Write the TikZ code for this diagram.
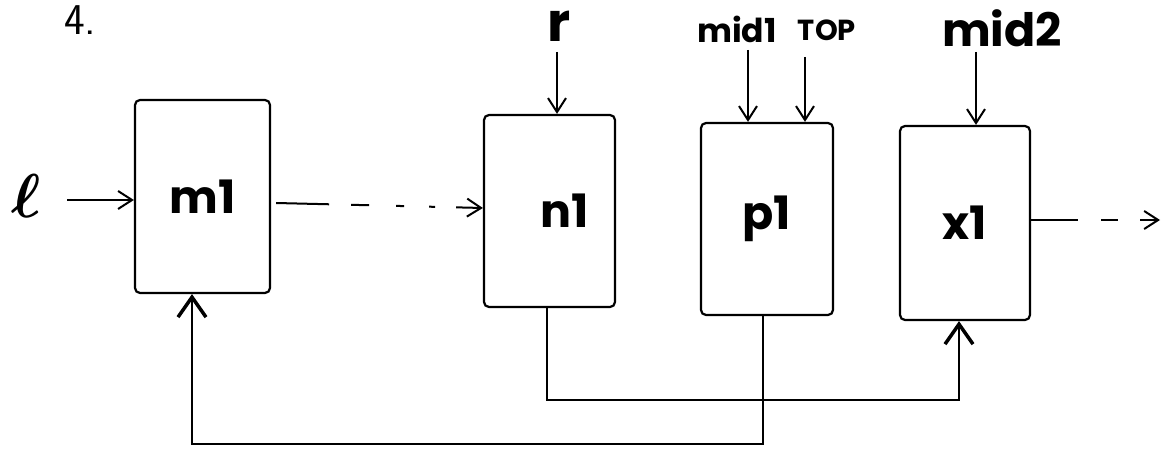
\documentclass[tikz,border=0pt]{standalone}
\usepackage{amsmath}
\usepackage{fontspec}
\setmainfont{Poppins}
\usetikzlibrary{arrows.meta}

\tikzset{
  x=1pt, y=-1pt,
  blk/.style={draw, line width=2.2pt, rounded corners=5pt, inner sep=0pt,
              font=\fontsize{46}{46}\selectfont\bfseries},
  tag/.style={inner sep=0pt, anchor=base, font=\fontsize{#1}{#1}\selectfont\bfseries},
  wire/.style={line width=2pt},
  inarrow/.style={wire, -{Straight Barb[length=14pt,width=18pt,line width=2pt]}},
  uparrow/.style={line width=2.2pt, -{Straight Barb[length=20pt,width=28pt,line width=3.5pt]}},
}

\begin{document}
\begin{tikzpicture}
\useasboundingbox (0,0) rectangle (1170,454);

% heading
\node[inner sep=0pt, anchor=base west, font=\sffamily\fontsize{44}{44}\selectfont] (num) at (64,35) {4.};

% blocks
\node[blk, minimum width=135pt, minimum height=193pt] (m1) at (202.5,196.5) {m1};
\node[blk, minimum width=131pt, minimum height=192pt] (n1) at (549.5,211) {\hspace*{30pt}n1};
\node[blk, minimum width=132pt, minimum height=192pt] (p1) at (767,219) {p1};
\node[blk, minimum width=130pt, minimum height=194pt] (x1) at (965,223) {x1};

% input labels
\node[inner sep=0pt] (lin) at (26,196) {\scalebox{6.2}{$\boldsymbol{\ell}$}};
\node[tag=54] (rlbl) at (559,42) {r};
\node[tag=33] (mid1) at (737,43) {mid1};
\node[tag=29] (top) at (827,41) {TOP};
\node[tag=46] (mid2) at (1002,47) {mid2};

% arrow ends
\coordinate (la) at (67,200);
\coordinate (ra) at (557,52);
\coordinate (ma) at (748,50);
\coordinate (ta) at (805,57);
\coordinate (na) at (976,52);
\coordinate (xout) at (1160,220);
\coordinate (fa) at (763,444);
\coordinate (fb) at (192,444);
\coordinate (ga) at (547,400);
\coordinate (gb) at (959,400);

% inputs
\draw[inarrow] (la) -- (la -| m1.west);
\draw[inarrow] (ra) -- (ra |- n1.north);
\draw[inarrow] (ma) -- (ma |- p1.north);
\draw[inarrow] (ta) -- (ta |- p1.north);
\draw[inarrow] (na) -- (na |- x1.north);

% forward links
\draw[inarrow, dash pattern=on 53pt off 22pt on 18pt off 27pt on 8pt off 25pt on 6pt off 21pt on 40pt]
  ([shift={(5pt,-6.5pt)}]m1.east) -- ([yshift=3pt]n1.west);
\draw[inarrow, dash pattern=on 47pt off 23pt on 17pt off 22pt on 30pt]
  (xout -| x1.east) -- (xout);

% feedback paths
\draw[uparrow] (fa |- p1.south) -- (fa) -- (fb) -- (fb |- m1.south);
\draw[uparrow] (ga |- n1.south) -- (ga) -- (gb) -- (gb |- x1.south);
\end{tikzpicture}
\end{document}
